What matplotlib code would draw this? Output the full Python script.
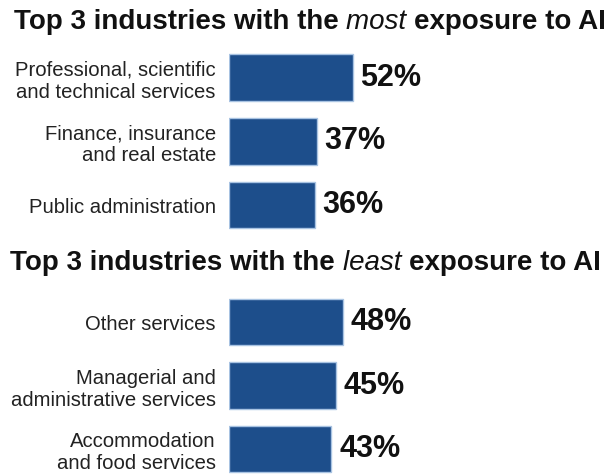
import matplotlib.pyplot as plt

plt.rcParams["font.family"] = ["Liberation Sans", "DejaVu Sans"]

# most / least exposed industries (share of workers, %)
most_labels = ["Professional, scientific\nand technical services",
               "Finance, insurance\nand real estate",
               "Public administration"]
most_values = [52, 37, 36]

least_labels = ["Other services",
                "Managerial and\nadministrative services",
                "Accommodation\nand food services"]
least_values = [48, 45, 43]

BAR = "#1d4e8b"
EDGE = "#a8c3e2"
W, H = 613, 474
X0 = 229          # pixel column where the bars start

fig = plt.figure(figsize=(W / 100, H / 100), dpi=100)


def px_axes(top, bottom):
    # axes spanning the given pixel rows, starting at the bar baseline
    return fig.add_axes([X0 / W, 1 - bottom / H, (W - X0) / W, (bottom - top) / H])


def draw_group(ax, labels, values):
    y = range(len(values))
    ax.barh(y, values, height=0.73, color=BAR, edgecolor=EDGE, linewidth=1.0)
    ax.set_xlim(0, 161.3)
    ax.set_ylim(len(values) - 0.5, -0.5)
    ax.set_yticks(list(y))
    ax.set_yticklabels(labels, fontsize=14.6, color="#222222", linespacing=1.2)
    ax.tick_params(axis="y", length=0, pad=9.5)
    ax.set_xticks([])
    for s in ax.spines.values():
        s.set_visible(False)
    ax.patch.set_alpha(0)
    for yi, v in zip(y, values):
        ax.annotate(f"{v}%", (v, yi), xytext=(5.5, 0), textcoords="offset points",
                    ha="left", va="center", fontsize=22, fontweight="bold",
                    color="#111111")


def draw_title(x, y, before, word, after):
    kw = dict(fontsize=20, color="#111111", ha="left", va="baseline")
    t1 = fig.text(x / W, 1 - y / H, before, fontweight="bold", **kw)
    t2 = fig.text(0, 0, word, fontstyle="italic", **kw)
    t3 = fig.text(0, 0, after, fontweight="bold", **kw)
    fig.canvas.draw()
    r = fig.canvas.get_renderer()
    inv = fig.transFigure.inverted()
    # chain the three pieces one after another on the same baseline
    x2 = inv.transform((t1.get_window_extent(r).x1, 0))[0]
    t2.set_position((x2, 1 - y / H))
    x3 = inv.transform((t2.get_window_extent(r).x1, 0))[0]
    t3.set_position((x3, 1 - y / H))


ax1 = px_axes(45.6, 237)
draw_group(ax1, most_labels, most_values)

ax2 = px_axes(290.25, 480.75)
draw_group(ax2, least_labels, least_values)

draw_title(14, 29, "Top 3 industries with the ", "most ", "exposure to AI")
draw_title(10, 270, "Top 3 industries with the ", "least ", "exposure to AI")

fig.savefig("out.png", dpi=100, facecolor="white")
